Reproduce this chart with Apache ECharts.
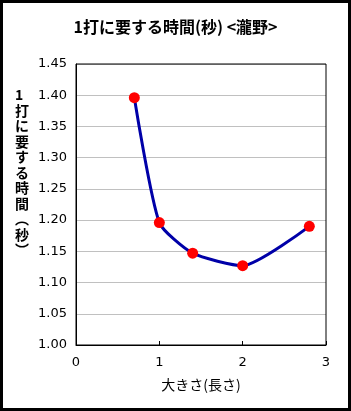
<!DOCTYPE html>
<html>
<head>
<meta charset="utf-8">
<title>1打に要する時間</title>
<script src="https://cdn.jsdelivr.net/npm/echarts@6/dist/echarts.min.js"></script>
<style>
  html, body { margin: 0; padding: 0; background: #fff; }
  #main { width: 351px; height: 411px; box-sizing: border-box; border: 3px solid #000; }
</style>
</head>
<body>
<div id="main"></div>
<script>
// データ
var sizes = [0.7, 1.0, 1.4, 2.0, 2.8];
var times = [1.396, 1.196, 1.147, 1.127, 1.19];
var titleText = '1打に要する時間(秒) <瀧野>';
var xName = '大きさ(長さ)';
var yNameChars = ['1', '打', 'に', '要', 'す', 'る', '時', '間', '︵', '秒', '︶'];

var font = '"Noto Sans CJK JP", "DejaVu Sans", sans-serif';
var numFont = '"DejaVu Sans", sans-serif';
var chart = echarts.init(document.getElementById('main'));

var option = {
  backgroundColor: '#fff',
  animation: false,
  title: {
    text: titleText,
    left: 'center',
    top: 11,
    textStyle: { fontFamily: font, fontSize: 16, fontWeight: 'bold', color: '#000' }
  },
  graphic: [{
    type: 'text',
    left: 12,
    top: 84,
    style: {
      text: yNameChars.join('\n'),
      font: 'bold 14px ' + font,
      lineHeight: 15.5,
      fill: '#000',
      align: 'center'
    }
  }],
  grid: { left: 73, right: 22, top: 61, bottom: 63 },
  xAxis: {
    type: 'value',
    min: 0, max: 3, interval: 1,
    name: xName,
    nameLocation: 'middle',
    nameGap: 33,
    nameTextStyle: { fontFamily: font, fontSize: 14, color: '#000' },
    axisLine: { lineStyle: { color: '#000', width: 1 } },
    axisTick: { inside: true, length: 4, lineStyle: { color: '#000' } },
    axisLabel: { fontFamily: numFont, fontSize: 13, color: '#000', margin: 11 },
    splitLine: { show: false }
  },
  yAxis: {
    type: 'value',
    min: 1.0, max: 1.45, interval: 0.05,
    axisLine: { show: true, lineStyle: { color: '#000', width: 1 } },
    axisTick: { show: false },
    axisLabel: { fontFamily: numFont, fontSize: 13, color: '#000', margin: 9,
      formatter: function (v) { return v.toFixed(2); } },
    splitLine: { lineStyle: { color: '#c0c0c0', width: 1 } }
  },
  series: [{
    type: 'line',
    data: sizes.map(function (x, i) { return [x, times[i]]; }),
    smooth: 0.2,
    symbol: 'circle',
    symbolSize: 11,
    lineStyle: { color: '#0000a8', width: 3 },
    itemStyle: { color: '#ff0000' }
  }, {
    // プロットエリア枠
    type: 'line',
    data: [],
    markArea: {
      silent: true,
      itemStyle: { color: 'transparent', borderColor: '#000', borderWidth: 1 },
      data: [[{ coord: [0, 1.0] }, { coord: [3, 1.45] }]]
    }
  }]
};

chart.setOption(option);
</script>
</body>
</html>
